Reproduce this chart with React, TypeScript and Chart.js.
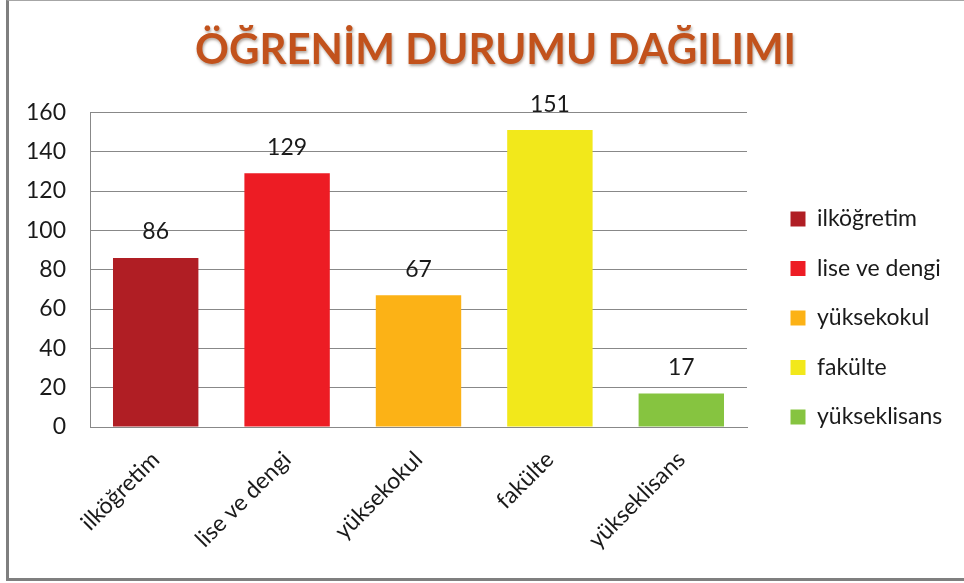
import React, { useEffect, useRef } from "react";
import { Chart, registerables } from "chart.js";

Chart.register(...registerables);

const TITLE = "ÖĞRENİM DURUMU DAĞILIMI";
const categories = ["ilköğretim", "lise ve dengi", "yüksekokul", "fakülte", "yükseklisans"];
const values = [86, 129, 67, 151, 17];
const barColors = ["#B01E24", "#ED1C24", "#FCB216", "#F2E81B", "#86C440"];
const yTicks = [0, 20, 40, 60, 80, 100, 120, 140, 160];

const FONT = "Lato, 'Open Sans', sans-serif";
const TEXT = "#1a1a1a";

const valueLabels = {
  id: "valueLabels",
  afterDatasetsDraw(chart: any) {
    const ctx = chart.ctx;
    const meta = chart.getDatasetMeta(0);
    ctx.save();
    ctx.font = `23px ${FONT}`;
    ctx.fillStyle = TEXT;
    ctx.textAlign = "center";
    ctx.textBaseline = "middle";
    meta.data.forEach((bar: any, i: number) => {
      ctx.fillText(String(values[i]), bar.x, bar.y - 26);
    });
    ctx.restore();
  },
};

const layoutTweaks = {
  id: "layoutTweaks",
  beforeLayout(chart: any) {
    const lg = chart.legend;
    if (lg && !lg._fixedPatched) {
      const orig = lg.fit.bind(lg);
      lg.fit = function () {
        orig();
        this.width = 200;
      };
      lg._fixedPatched = true;
    }
    const t = chart.titleBlock;
    if (t && !t._shadowPatched) {
      const d = t.draw.bind(t);
      t.draw = function (...args: any[]) {
        const c = this.ctx;
        c.save();
        c.shadowColor = "rgba(60,30,10,0.4)";
        c.shadowBlur = 3;
        c.shadowOffsetX = 1;
        c.shadowOffsetY = 2;
        d(...args);
        c.restore();
      };
      t._shadowPatched = true;
    }
  },
};

export default function App() {
  const canvasRef = useRef<HTMLCanvasElement | null>(null);

  useEffect(() => {
    document.body.style.margin = "0";
    const canvas = canvasRef.current!;
    const ctx = canvas.getContext("2d")!;
    const grad = ctx.createLinearGradient(0, 34, 0, 66);
    grad.addColorStop(0, "#C2521C");
    grad.addColorStop(0.5, "#ED7220");
    grad.addColorStop(1, "#F99438");

    const chart = new Chart(canvas, {
      type: "bar",
      data: {
        labels: categories,
        datasets: [
          {
            data: values,
            backgroundColor: barColors,
            borderWidth: 0,
            barPercentage: 0.65,
            categoryPercentage: 1,
          },
        ],
      },
      options: {
        animation: false,
        responsive: true,
        maintainAspectRatio: false,
        layout: { autoPadding: false, padding: { left: 27, right: 0, top: 0, bottom: 6 } },
        plugins: {
          tooltip: { enabled: false },
          title: {
            display: true,
            text: TITLE,
            color: grad as any,
            font: { family: FONT, size: 42, weight: "bold" },
            padding: { top: 25, bottom: 37 },
          },
          legend: {
            display: true,
            position: "right",
            align: "start",
            title: { display: true, text: " ", padding: { top: 169, bottom: 0 }, font: { size: 10 } },
            labels: {
              boxWidth: 15,
              boxHeight: 15,
              padding: 26.5,
              color: TEXT,
              font: { family: FONT, size: 23 },
              generateLabels: (ch: any) =>
                ch.data.labels.map((l: string, i: number) => ({
                  text: l,
                  fillStyle: barColors[i],
                  strokeStyle: barColors[i],
                  fontColor: TEXT,
                  lineWidth: 0,
                  hidden: false,
                  index: i,
                  datasetIndex: 0,
                })),
            },
          },
        },
        scales: {
          x: {
            grid: { display: false, drawTicks: false },
            border: { display: true, color: "#888888", width: 1 },
            ticks: {
              color: TEXT,
              font: { family: FONT, size: 23 },
              minRotation: 45,
              maxRotation: 45,
              padding: 19,
            },
            afterFit: (s: any) => {
              s.height = 150;
            },
          },
          y: {
            min: 0,
            max: 160,
            afterBuildTicks: (s: any) => {
              s.ticks = yTicks.map((v) => ({ value: v }));
            },
            grid: { color: "#888888", lineWidth: 1, drawTicks: false },
            border: { display: true, color: "#888888", width: 1 },
            ticks: {
              color: TEXT,
              font: { family: FONT, size: 23 },
              padding: 24,
            },
            afterFit: (s: any) => {
              s.width = 63;
            },
          },
          y2: {
            position: "right",
            display: true,
            grid: { display: false, drawTicks: false },
            border: { display: false },
            ticks: { display: false },
            afterFit: (s: any) => {
              s.width = 17;
            },
          },
        },
      },
      plugins: [valueLabels, layoutTweaks],
    });
    return () => chart.destroy();
  }, []);

  return (
    <div style={{ position: "relative", width: 964, height: 583, background: "#fff" }}>
      <div
        style={{
          position: "absolute",
          left: 6,
          top: 0,
          width: 958,
          height: 581,
          boxSizing: "border-box",
          borderLeft: "3px solid #7f7f7f",
          borderTop: "1px solid #a6a6a6",
          borderBottom: "3px solid #7f7f7f",
        }}
      />
      <canvas ref={canvasRef} style={{ position: "absolute", left: 0, top: 0 }} />
    </div>
  );
}
